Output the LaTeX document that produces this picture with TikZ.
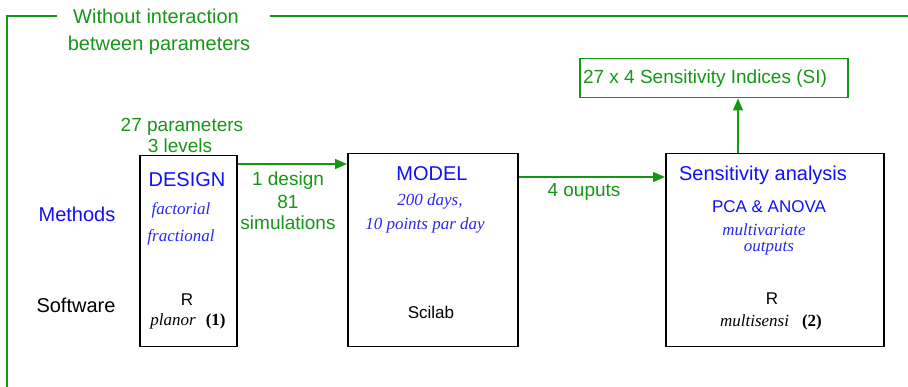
\documentclass[tikz,border=0pt]{standalone}
\usepackage{fontspec}
\setmainfont{Liberation Serif}
\setsansfont{Liberation Sans}
\usetikzlibrary{arrows.meta}
\definecolor{fgreen}{RGB}{22,150,22}
\definecolor{fblue}{RGB}{15,15,250}
\definecolor{iblue}{RGB}{40,40,240}
\begin{document}
\begin{tikzpicture}[x=1pt,y=-1pt,
  box/.style={draw=black,line width=1.5pt,anchor=north west,inner sep=0pt},
  gbox/.style={draw=fgreen,line width=1.5pt,anchor=north west,inner sep=0pt},
  txt/.style={inner sep=0pt,font=\sffamily\fontsize{20}{24}\selectfont},
  gtxt/.style={inner sep=0pt,text=fgreen,font=\sffamily\fontsize{19}{23}\selectfont},
  btxt/.style={inner sep=0pt,text=fblue,font=\sffamily\fontsize{20}{24}\selectfont},
  bstxt/.style={inner sep=0pt,text=fblue,font=\sffamily\fontsize{17}{20}\selectfont},
  itxt/.style={inner sep=0pt,text=iblue,font=\rmfamily\itshape\fontsize{17}{20}\selectfont},
  ktxt/.style={inner sep=0pt,text=black,font=\sffamily\fontsize{17}{20}\selectfont},
  kitxt/.style={inner sep=0pt,text=black,font=\rmfamily\fontsize{17}{20}\selectfont},
  arr/.style={draw=fgreen,line width=1.5pt,-{Triangle[length=12pt,width=10pt]}},
  frame/.style={draw=fgreen,line width=1.5pt}]
\useasboundingbox (0,0) rectangle (908,387);
% frame
\node[gtxt,font=\sffamily\fontsize{20}{24}\selectfont] (title1) at (156,16) {Without interaction};
\node[gtxt,font=\sffamily\fontsize{20}{24}\selectfont] (title2) at (159,45) {between parameters};
\coordinate (fl) at (57,16);
\coordinate (fc) at (7,16);
\coordinate (fb) at (7,387);
\coordinate (fr1) at (270,16);
\coordinate (fr2) at (908,16);
\draw[frame] (fl) -- (fc) -- (fb);
\draw[frame] (fr1) -- (fr2);
% boxes
\node[box,minimum width=97pt,minimum height=191pt] (design) at (139,155) {};
\node[box,minimum width=170pt,minimum height=193pt] (model) at (347,153) {};
\node[box,minimum width=218pt,minimum height=193pt] (sa) at (665,153) {};
\node[gbox,minimum width=268pt,minimum height=39pt] (si) at (579,58) {};
% row labels
\node[btxt] (methods) at (77,214) {Methods};
\node[txt] (software) at (76,305) {Software};
% design texts
\node[gtxt] (p27) at (182,127) {27 parameters};
\node[gtxt] (lev) at (180,146) {3 levels};
\node[btxt] (dtitle) at (187,180) {DESIGN};
\node[itxt] (fact) at (181,210) {factorial};
\node[itxt] (frac) at (181,237) {fractional};
\node[ktxt] (r1) at (187,300) {R};
\node[kitxt] (planor) at (188,321) {\textit{planor}\hspace{10pt}\textbf{(1)}};
% arrow design -> model
\draw[arr] ([yshift=-9pt]design.north east) -- ([yshift=-11pt]model.north west);
\node[gtxt] (l1) at (288,181) {1 design};
\node[gtxt] (l2) at (288,202) {81};
\node[gtxt] (l3) at (288,223) {simulations};
% model texts
\node[btxt] (mtitle) at (432,174) {MODEL};
\node[itxt] (m1) at (430,201) {200 days,};
\node[itxt] (m2) at (425,225) {10 points par day};
\node[ktxt] (scilab) at (431,312) {Scilab};
% arrow model -> sa
\draw[arr] ([yshift=-24pt]model.north east) -- ([yshift=-24pt]sa.north west);
\node[gtxt] (l4) at (584,192) {4 ouputs};
% sa texts
\node[btxt] (stitle) at (763,175) {Sensitivity analysis};
\node[bstxt] (pca) at (769,207) {PCA \& ANOVA};
\node[itxt] (mv) at (764,230) {multivariate};
\node[itxt] (op) at (769,249) {outputs};
\node[ktxt] (r2) at (772,299) {R};
\node[kitxt] (msens) at (771,322) {\textit{multisensi}\hspace{13pt}\textbf{(2)}};
% arrow sa -> si
\coordinate (satop) at ([xshift=73pt]sa.north west);
\draw[arr] (satop) -- (satop |- si.south);
\node[gtxt] (sitxt) at (705,79) {27 x 4 Sensitivity Indices (SI)};
\end{tikzpicture}
\end{document}
